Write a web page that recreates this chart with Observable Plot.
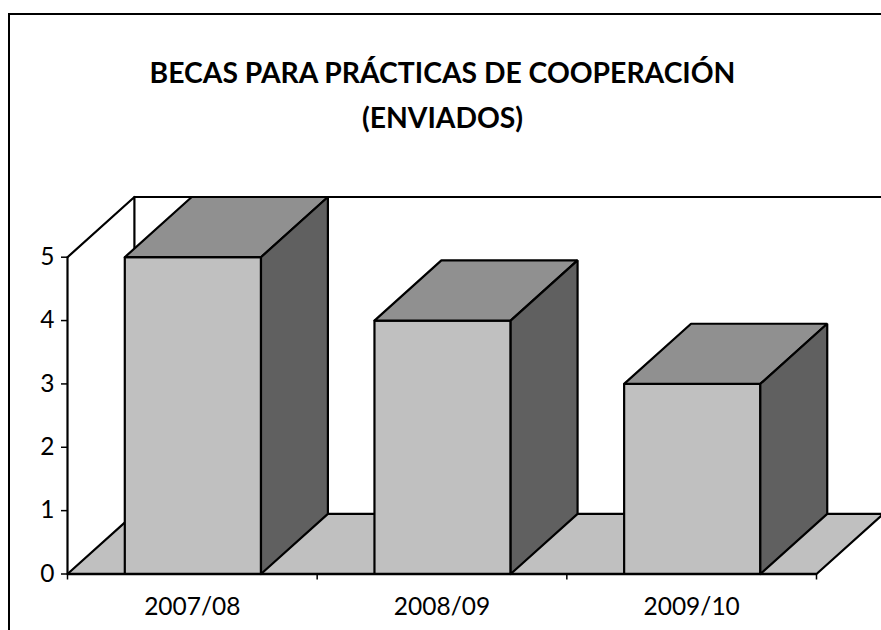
<!DOCTYPE html>
<html>
<head>
<meta charset="utf-8">
<script src="https://cdn.jsdelivr.net/npm/d3@7"></script>
<script src="https://cdn.jsdelivr.net/npm/@observablehq/plot@0.6"></script>
<style>
html,body{margin:0;padding:0;background:#fff;}
#page{position:relative;width:881px;height:630px;overflow:hidden;font-family:Lato,sans-serif;}
#page::before{content:"";position:absolute;left:8px;top:13px;width:900px;height:700px;border:2.5px solid #000;box-sizing:border-box;}
#title{position:relative;height:180px;box-sizing:border-box;padding-top:49.5px;padding-left:4px;text-align:center;font-weight:700;font-size:28.3px;line-height:45px;color:#000;}
#chart svg{display:block;position:relative;overflow:hidden;background:transparent;}
</style>
</head>
<body>
<div id="page">
<div id="title">BECAS PARA PRÁCTICAS DE COOPERACIÓN<br>(ENVIADOS)</div>
<div id="chart"></div>
</div>
<script>
const categories = ["2007/08", "2008/09", "2009/10"];
const enviados = [5, 4, 3];
const valueTicks = [0, 1, 2, 3, 4, 5];
const categoryEdges = [0, 1, 2, 3];

// Oblique projection, expressed in data units
const depthX = 0.268;
const depthY = 0.95;
const barStart = 0.2295;
const barEnd = 0.775;

const closed = (pts, id) => [...pts, pts[0]].map(([x, y]) => ({x, y, id}));

const front = enviados.flatMap((v, i) => closed([[i + barStart, 0], [i + barEnd, 0], [i + barEnd, v], [i + barStart, v]], i));
const top3d = enviados.flatMap((v, i) => closed([[i + barStart, v], [i + barEnd, v], [i + barEnd + depthX, v + depthY], [i + barStart + depthX, v + depthY]], i));
const side = enviados.flatMap((v, i) => closed([[i + barEnd, 0], [i + barEnd + depthX, depthY], [i + barEnd + depthX, v + depthY], [i + barEnd, v]], i));
const floor = closed([[0, 0], [3, 0], [3 + depthX, depthY], [depthX, depthY]], 0);
const wallLeft = [[0, 5], [depthX, 5 + depthY], [depthX, depthY]].map(([x, y]) => ({x, y}));
const wallBack = [[depthX, 5 + depthY], [3 + depthX, 5 + depthY]].map(([x, y]) => ({x, y}));

const face = (data, fill) => Plot.line(data, {x: "x", y: "y", z: "id", fill, stroke: "#000", strokeWidth: 2.2, strokeLinejoin: "miter"});
const edge = (data) => Plot.line(data, {x: "x", y: "y", stroke: "#000", strokeWidth: 2.2});

const chart = Plot.plot({
  width: 881,
  height: 450,
  marginTop: 76.7, marginRight: 65, marginBottom: 56.5, marginLeft: 67,
  style: {fontFamily: "Lato, sans-serif", background: "transparent"},
  x: {type: "linear", domain: [0, 3]},
  y: {type: "linear", domain: [0, 5]},
  marks: [
    edge(wallLeft),
    edge(wallBack),
    face(floor, "#c0c0c0"),
    face(front, "#c0c0c0"),
    face(top3d, "#909090"),
    face(side, "#606060"),
    Plot.ruleY([0], {x1: 0, x2: 3, stroke: "#000", strokeWidth: 2.5}),
    Plot.ruleX([0], {y1: 0, y2: 5, stroke: "#000", strokeWidth: 2.2}),
    Plot.axisY(valueTicks, {tickSize: 6, tickPadding: 7, tickFormat: d3.format("d"), fontSize: 24.5, fill: "#000", stroke: "#000", strokeWidth: 1.5, strokeOpacity: 1, label: null, anchor: "left"}),
    Plot.axisX(categoryEdges, {tickSize: 6, tickFormat: () => "", stroke: "#000", strokeWidth: 1.5, strokeOpacity: 1, label: null, anchor: "bottom"}),
    Plot.text(categories, {x: (d, i) => i + 0.5, y: 0, text: d => d, dy: 33, fontSize: 24.5, fill: "#000"})
  ]
});
document.getElementById("chart").appendChild(chart);
</script>
</body>
</html>
